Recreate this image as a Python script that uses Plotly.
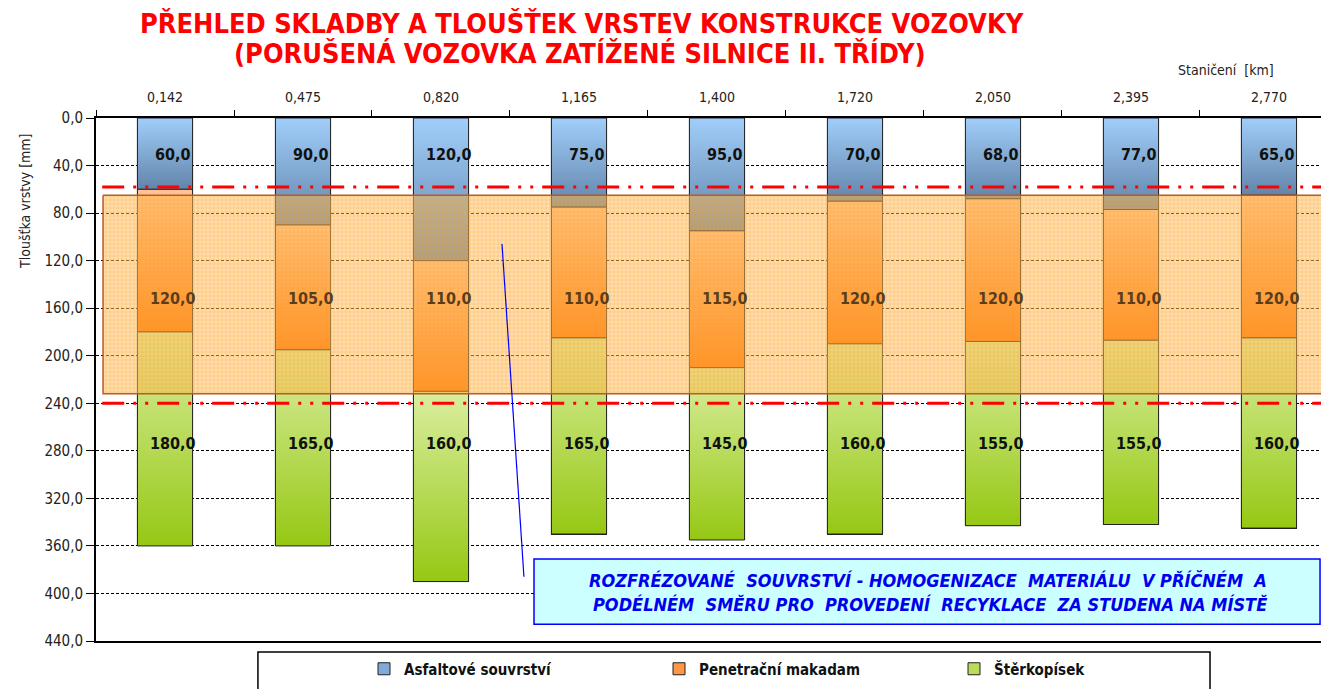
import plotly.graph_objects as go

# ---------------- data ----------------
stations = ["0,142", "0,475", "0,820", "1,165", "1,400", "1,720", "2,050", "2,395", "2,770"]
asfalt = [60, 90, 120, 75, 95, 70, 68, 77, 65]
makadam = [120, 105, 110, 110, 115, 120, 120, 110, 120]
sterkopisek = [180, 165, 160, 165, 145, 160, 155, 155, 160]
series_names = ["Asfaltové souvrství", "Penetrační makadam", "Štěrkopísek"]
y_ticks = list(range(0, 441, 40))

# reference levels / band (annotation elements)
RED_LINES = [58, 240]
BAND = (65, 232)

# ---------------- styles ----------------
NARROW = "Liberation Sans Narrow, Arial Narrow, DejaVu Sans Condensed, sans-serif"
grad = [
    [[0, "rgb(160,206,250)"], [1, "rgb(98,132,170)"]],
    [[0, "rgb(255,196,150)"], [1, "rgb(255,112,0)"]],
    [[0, "rgb(218,238,160)"], [1, "rgb(150,200,20)"]],
]
solid = ["rgb(128,170,215)", "rgb(255,150,70)", "rgb(185,220,90)"]
label_colors = ["#111111", "#5a3e1c", "#111111"]
label_y = [31, 152, 274]
BAR_W = 0.40
X_RANGE = [-0.5, 8.377]

series = [asfalt, makadam, sterkopisek]

fig = go.Figure()

# real stacked bars (category axis)
for k, vals in enumerate(series):
    fig.add_trace(go.Bar(
        x=stations, y=vals, name=series_names[k], width=BAR_W,
        marker=dict(color=solid[k], line=dict(color="#222222", width=1)),
        hoverinfo="skip",
    ))

# gradient overlay of every bar segment, computed from the same data
bases = [0] * len(stations)
for k, vals in enumerate(series):
    for i, v in enumerate(vals):
        b = bases[i]
        fig.add_trace(go.Scatter(
            x=[i - BAR_W / 2, i + BAR_W / 2, i + BAR_W / 2, i - BAR_W / 2, i - BAR_W / 2],
            y=[b, b, b + v, b + v, b],
            xaxis="x2", yaxis="y", mode="lines", fill="toself",
            line=dict(color="#222222", width=1),
            fillgradient=dict(type="vertical", colorscale=grad[k], start=b, stop=b + v),
            showlegend=False, hoverinfo="skip",
        ))
        bases[i] = b + v

# hatched translucent band
fig.add_trace(go.Scatter(
    x=[-0.449, 8.7, 8.7, -0.449, -0.449],
    y=[BAND[0], BAND[0], BAND[1], BAND[1], BAND[0]],
    xaxis="x2", yaxis="y", mode="lines", fill="toself",
    line=dict(color="rgb(185,90,40)", width=1.5),
    fillcolor="rgba(255,185,90,0.48)",
    fillpattern=dict(shape="+", size=4, solidity=0.35,
                     fgcolor="rgba(255,155,20,0.8)", bgcolor="rgba(255,188,90,0.48)"),
    showlegend=False, hoverinfo="skip",
))

shapes = []
for yv in RED_LINES:
    shapes.append(dict(type="line", xref="x2", yref="y", x0=-0.455, x1=8.7, y0=yv, y1=yv,
                       line=dict(color="#ff0000", width=3, dash="22px,9px,3px,9px,3px,9px"),
                       layer="above"))
# pointer line
shapes.append(dict(type="line", xref="x2", yref="y", x0=2.442, y0=106, x1=2.601, y1=386,
                   line=dict(color="#0000ff", width=1.2), layer="above"))
# note box
shapes.append(dict(type="rect", xref="x2", yref="y", x0=2.674, x1=8.37, y0=371, y1=426,
                   fillcolor="#ccffff", line=dict(color="#0000ff", width=1.5), layer="above"))
# legend frame
shapes.append(dict(type="rect", xref="paper", yref="paper", x0=0.1322, x1=0.9094, y0=-0.14, y1=-0.021,
                   line=dict(color="#000000", width=1.5), fillcolor="rgba(0,0,0,0)"))

annotations = []
# data labels
for k, vals in enumerate(series):
    for i, v in enumerate(vals):
        annotations.append(dict(
            x=stations[i], y=label_y[k], xref="x", yref="y", xshift=8,
            xanchor="center", yanchor="middle",
            text=f"{v:.1f}".replace(".", ","), showarrow=False,
            font=dict(family=NARROW, size=16, color=label_colors[k], weight="bold"),
        ))

def px_x(p):
    return (p - 96) / 1225

def px_y(p):
    return (641 - p) / 523

# title
annotations.append(dict(xref="paper", yref="paper", x=px_x(582), y=px_y(23),
                        xanchor="center", yanchor="middle",
                        text="PŘEHLED SKLADBY A TLOUŠŤEK VRSTEV KONSTRUKCE VOZOVKY", showarrow=False,
                        font=dict(family=NARROW, size=27, color="#ff0000", weight="bold")))
annotations.append(dict(xref="paper", yref="paper", x=px_x(580), y=px_y(53),
                        xanchor="center", yanchor="middle",
                        text="(PORUŠENÁ VOZOVKA ZATÍŽENÉ SILNICE II. TŘÍDY)", showarrow=False,
                        font=dict(family=NARROW, size=27, color="#ff0000", weight="bold")))
annotations.append(dict(xref="paper", yref="paper", x=px_x(1226), y=px_y(70),
                        xanchor="center", yanchor="middle",
                        text="Staničení  [km]", showarrow=False,
                        font=dict(family=NARROW, size=14, color="#222222")))
annotations.append(dict(xref="paper", yref="paper", x=px_x(25), y=px_y(201),
                        xanchor="center", yanchor="middle",
                        text="Tloušťka vrstvy [mm]", showarrow=False, textangle=-90,
                        font=dict(family=NARROW, size=14, color="#222222")))
# note text
annotations.append(dict(xref="x2", yref="y", x=5.529, y=388.7, showarrow=False,
                        xanchor="center", yanchor="middle",
                        text="ROZFRÉZOVANÉ  SOUVRSTVÍ - HOMOGENIZACE  MATERIÁLU  V PŘÍČNÉM  A",
                        font=dict(family=NARROW, size=18, color="#0000ee", weight="bold", style="italic")))
annotations.append(dict(xref="x2", yref="y", x=5.54, y=409.7, showarrow=False,
                        xanchor="center", yanchor="middle",
                        text="PODÉLNÉM  SMĚRU PRO  PROVEDENÍ  RECYKLACE  ZA STUDENA NA MÍSTĚ",
                        font=dict(family=NARROW, size=18, color="#0000ee", weight="bold", style="italic")))

fig.update_layout(
    width=1321, height=689,
    margin=dict(l=96, r=0, t=118, b=48),
    paper_bgcolor="white", plot_bgcolor="white",
    barmode="stack", separators=", ",
    font=dict(family=NARROW, size=14, color="#222222"),
    xaxis=dict(type="category", side="top", range=X_RANGE, tickson="boundaries",
               ticks="outside", ticklen=6, tickcolor="black", tickwidth=1,
               showline=True, linecolor="black", linewidth=2, mirror=True,
               showgrid=False, ticklabelstandoff=8,
               tickfont=dict(family=NARROW, size=14, color="#222222")),
    xaxis2=dict(type="linear", overlaying="x", anchor="y", range=X_RANGE, visible=False,
                showgrid=False, zeroline=False),
    yaxis=dict(range=[440, 0], tickvals=y_ticks, tickformat=".1f",
               ticks="outside", ticklen=8, tickcolor="black",
               showline=True, linecolor="black", linewidth=2,
               showgrid=True, gridcolor="black", gridwidth=1, griddash="3px,2px",
               zeroline=False, tickfont=dict(family=NARROW, size=15, color="#222222")),
    legend=dict(orientation="h", x=px_x(364), y=px_y(669), xanchor="left",
                yanchor="middle", entrywidth=250, traceorder="normal", bgcolor="rgba(0,0,0,0)",
                font=dict(family=NARROW, size=15, color="#111111", weight="bold")),
    shapes=shapes, annotations=annotations,
)

fig.write_html("out.html", config={"displayModeBar": False},
               post_script="document.body.style.margin='0';")
